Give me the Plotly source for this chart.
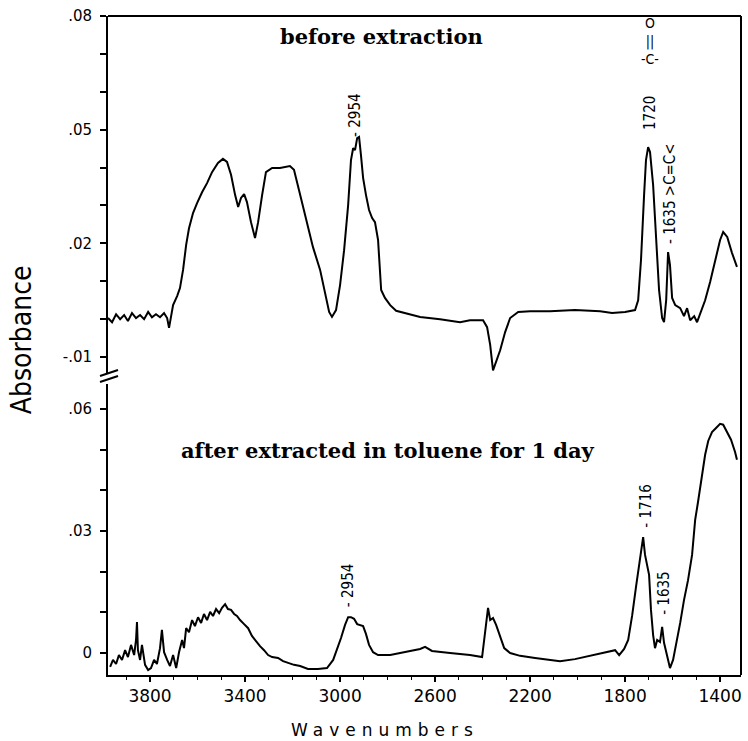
import plotly.graph_objects as go

# ---- data (wavenumber cm-1, absorbance) ----
wn_before = [3977, 3960, 3943, 3926, 3909, 3893, 3876, 3859, 3842, 3825, 3808, 3792, 3775, 3758, 3741, 3728, 3720,
             3703, 3686, 3674, 3661, 3648, 3636, 3619, 3602, 3581, 3560, 3539, 3514, 3493, 3476, 3459, 3442, 3429,
             3417, 3404, 3392, 3375, 3358, 3345, 3328, 3312, 3286, 3253, 3211, 3194, 3173, 3147, 3114, 3084, 3063,
             3046, 3034, 3017, 3000, 2983, 2966, 2954, 2945, 2937, 2928, 2920, 2912, 2903, 2891, 2878, 2865, 2853,
             2840, 2827, 2811, 2789, 2764, 2726, 2663, 2579, 2495, 2453, 2398, 2381, 2368, 2356, 2343, 2326, 2305,
             2284, 2250, 2200, 2116, 2011, 1905, 1855, 1800, 1758, 1745, 1733, 1720, 1712, 1703, 1695, 1682, 1669,
             1657, 1644, 1636, 1627, 1619, 1611, 1602, 1589, 1568, 1552, 1539, 1526, 1509, 1497, 1484, 1463, 1442,
             1421, 1400, 1387, 1370, 1350, 1329]
abs_before = [0.0003, -0.0008, 0.0013, 0.0000, 0.0011, -0.0005, 0.0016, 0.0003, 0.0011, 0.0000, 0.0019, 0.0005,
              0.0013, 0.0005, 0.0016, 0.0003, -0.0023, 0.0037, 0.0061, 0.0082, 0.0130, 0.0196, 0.0240, 0.0280,
              0.0306, 0.0335, 0.0359, 0.0388, 0.0412, 0.0423, 0.0415, 0.0381, 0.0328, 0.0296, 0.0320, 0.0330,
              0.0309, 0.0256, 0.0214, 0.0256, 0.0328, 0.0388, 0.0399, 0.0399, 0.0404, 0.0394, 0.0341, 0.0275,
              0.0190, 0.0130, 0.0064, 0.0019, 0.0006, 0.0024, 0.0090, 0.0182, 0.0301, 0.0420, 0.0451, 0.0446,
              0.0478, 0.0481, 0.0433, 0.0373, 0.0328, 0.0288, 0.0267, 0.0256, 0.0209, 0.0077, 0.0056, 0.0037,
              0.0022, 0.0016, 0.0006, 0.0000, -0.0008, -0.0003, -0.0003, -0.0021, -0.0068, -0.0135, -0.0113,
              -0.0082, -0.0034, 0.0003, 0.0019, 0.0021, 0.0021, 0.0024, 0.0021, 0.0016, 0.0019, 0.0024, 0.0050,
              0.0156, 0.0328, 0.0420, 0.0454, 0.0441, 0.0354, 0.0209, 0.0077, 0.0003, -0.0008, 0.0050, 0.0177,
              0.0143, 0.0056, 0.0037, 0.0029, 0.0008, 0.0029, -0.0003, 0.0008, -0.0008, 0.0016, 0.0050, 0.0098,
              0.0156, 0.0209, 0.0230, 0.0217, 0.0175, 0.0138]

wn_after = [3968, 3956, 3943, 3931, 3918, 3905, 3893, 3880, 3867, 3859, 3855, 3851, 3842, 3834, 3821, 3808, 3796,
            3783, 3771, 3758, 3750, 3741, 3728, 3716, 3703, 3690, 3678, 3665, 3657, 3648, 3636, 3623, 3611, 3598,
            3585, 3573, 3560, 3547, 3535, 3522, 3509, 3497, 3484, 3472, 3459, 3446, 3434, 3421, 3404, 3387, 3371,
            3354, 3337, 3320, 3303, 3286, 3261, 3240, 3219, 3194, 3168, 3135, 3093, 3055, 3029, 3013, 2996, 2979,
            2966, 2954, 2941, 2928, 2916, 2903, 2891, 2878, 2861, 2840, 2789, 2726, 2663, 2642, 2613, 2537, 2453,
            2402, 2390, 2377, 2368, 2356, 2343, 2326, 2309, 2284, 2242, 2179, 2116, 2074, 2011, 1948, 1884, 1842,
            1825, 1804, 1787, 1770, 1753, 1737, 1724, 1716, 1707, 1699, 1691, 1682, 1674, 1665, 1653, 1644, 1636,
            1623, 1611, 1598, 1585, 1568, 1552, 1535, 1518, 1505, 1493, 1476, 1463, 1450, 1434, 1417, 1400, 1387,
            1370, 1354, 1337, 1329]
abs_after = [-0.0034, -0.0017, -0.0027, -0.0005, -0.0017, 0.0007, -0.0010, 0.0020, -0.0005, 0.0032, 0.0076, 0.0007,
             -0.0017, 0.0020, -0.0029, -0.0042, -0.0037, -0.0017, -0.0027, 0.0012, 0.0057, 0.0002, -0.0017, -0.0032,
             -0.0005, -0.0037, 0.0002, 0.0032, 0.0012, 0.0061, 0.0051, 0.0081, 0.0066, 0.0088, 0.0074, 0.0096,
             0.0081, 0.0101, 0.0091, 0.0108, 0.0098, 0.0111, 0.0120, 0.0108, 0.0106, 0.0096, 0.0091, 0.0081, 0.0071,
             0.0061, 0.0042, 0.0029, 0.0017, 0.0007, -0.0005, -0.0010, -0.0012, -0.0020, -0.0025, -0.0029, -0.0032,
             -0.0039, -0.0039, -0.0037, -0.0017, 0.0007, 0.0037, 0.0069, 0.0088, 0.0088, 0.0084, 0.0071, 0.0069,
             0.0066, 0.0047, 0.0020, 0.0002, -0.0005, -0.0005, 0.0002, 0.0010, 0.0015, 0.0005, 0.0000, -0.0005,
             -0.0010, 0.0052, 0.0111, 0.0081, 0.0086, 0.0069, 0.0039, 0.0012, 0.0000, -0.0007, -0.0012, -0.0017,
             -0.0020, -0.0015, -0.0007, 0.0002, 0.0007, -0.0005, 0.0010, 0.0032, 0.0093, 0.0167, 0.0229, 0.0285,
             0.0241, 0.0216, 0.0192, 0.0106, 0.0044, 0.0012, 0.0032, 0.0027, 0.0064, 0.0025, -0.0012, -0.0037,
             -0.0017, 0.0020, 0.0074, 0.0130, 0.0179, 0.0241, 0.0327, 0.0371, 0.0438, 0.0487, 0.0521, 0.0543,
             0.0553, 0.0563, 0.0561, 0.0543, 0.0524, 0.0494, 0.0475]

x_tickvals = [3800, 3400, 3000, 2600, 2200, 1800, 1400]
x_ticktext = ["3800", "3400", "3000", "2600", "2200", "1800", "1400"]
top_tickvals = [0.08, 0.05, 0.02, -0.01]
top_ticktext = [".08", ".05", ".02", "-.01"]
bot_tickvals = [0.06, 0.03, 0.0]
bot_ticktext = [".06", ".03", "0"]

tick_font = dict(family="DejaVu Sans", size=15, color="black")
label_font = dict(family="DejaVu Sans Condensed, Liberation Sans Narrow, sans-serif", size=15, color="black")
serif_font = dict(family="DejaVu Serif", size=21, color="black")

fig = go.Figure()
fig.add_trace(go.Scatter(x=wn_before, y=abs_before, mode="lines", xaxis="x", yaxis="y2",
                         line=dict(color="black", width=2), hoverinfo="skip"))
fig.add_trace(go.Scatter(x=wn_after, y=abs_after, mode="lines", xaxis="x", yaxis="y",
                         line=dict(color="black", width=2), hoverinfo="skip"))

yax_common = dict(showline=True, linewidth=2, linecolor="black", ticks="outside", ticklen=6, tickwidth=1.5,
                  tickcolor="black", showgrid=False, zeroline=False, tickmode="array", tickfont=tick_font,
                  ticklabelstandoff=5,
                  minor=dict(ticks="outside", ticklen=6, tickwidth=1.5, tickcolor="black", dtick=0.01, tick0=0,
                             showgrid=False))

fig.update_layout(
    width=748, height=741,
    margin=dict(l=108, r=7, t=16, b=66),
    paper_bgcolor="white", plot_bgcolor="white",
    showlegend=False,
    xaxis=dict(range=[3977, 1312], anchor="y", showline=True, linewidth=2, linecolor="black",
               ticks="outside", ticklen=5, tickwidth=1.5, tickcolor="black", tickmode="array",
               tickvals=x_tickvals, ticktext=x_ticktext, showgrid=False, zeroline=False,
               tickfont=dict(family="DejaVu Sans", size=17, color="black"),
               minor=dict(ticks="outside", ticklen=3, tickwidth=1, tickcolor="black", dtick=100, tick0=1400,
                          showgrid=False)),
    yaxis=dict(domain=[0, 0.4416], range=[-0.0054, 0.0661], anchor="x",
               tickvals=bot_tickvals, ticktext=bot_ticktext, **yax_common),
    yaxis2=dict(domain=[0.4583, 1], range=[-0.0142, 0.08], anchor="x",
                tickvals=top_tickvals, ticktext=top_ticktext, **yax_common),
)

# frame: top and right borders
fig.add_shape(type="line", xref="paper", yref="paper", x0=0, x1=1, y0=1, y1=1,
              line=dict(color="black", width=2))
fig.add_shape(type="line", xref="paper", yref="paper", x0=1, x1=1, y0=0, y1=1,
              line=dict(color="black", width=2))
# axis break marks
for dy in (0, -6):
    fig.add_shape(type="line", xref="paper", yref="paper", xsizemode="pixel", ysizemode="pixel",
                  xanchor=0, yanchor=0.4522, x0=-8, x1=10, y0=dy + 1, y1=dy + 7,
                  line=dict(color="black", width=2))

ann = dict(showarrow=False, xanchor="center", yanchor="middle")

# panel titles
fig.add_annotation(text="<b>before extraction</b>", x=2827, y=0.0745, xref="x", yref="y2",
                   font=serif_font, **ann)
fig.add_annotation(text="<b>after extracted in toluene for 1 day</b>", x=2798, y=0.0497, xref="x", yref="y",
                   font=serif_font, **ann)

# peak labels (rotated)
fig.add_annotation(text="- 2954", x=2937, y=0.0539, xref="x", yref="y2", textangle=-90, font=label_font, **ann)
fig.add_annotation(text="1720", x=1695, y=0.0544, xref="x", yref="y2", textangle=-90, font=label_font, **ann)
fig.add_annotation(text="O<br>||<br>-C-", x=1695, y=0.0735, xref="x", yref="y2",
                   font=dict(family="DejaVu Sans Condensed, sans-serif", size=14, color="black"), **ann)
fig.add_annotation(text="- 1635 >C=C<", x=1611, y=0.0333, xref="x", yref="y2", textangle=-90,
                   font=label_font, **ann)
fig.add_annotation(text="- 2954", x=2966, y=0.0167, xref="x", yref="y", textangle=-90, font=label_font, **ann)
fig.add_annotation(text="- 1716", x=1712, y=0.0362, xref="x", yref="y", textangle=-90, font=label_font, **ann)
fig.add_annotation(text="- 1635", x=1636, y=0.0148, xref="x", yref="y", textangle=-90, font=label_font, **ann)

# axis titles
fig.add_annotation(text="Absorbance", x=-0.1374, y=0.508, xref="paper", yref="paper", textangle=-90,
                   font=dict(family="Liberation Sans Narrow, DejaVu Sans Condensed, sans-serif", size=28,
                             color="black"), **ann)
fig.add_annotation(text='<span style="letter-spacing:6px">Wavenumbers</span>', x=0.4376, y=-0.0835,
                   xref="paper", yref="paper",
                   font=dict(family="DejaVu Sans", size=17, color="black"), **ann)

fig.write_html("out.html", config={"displayModeBar": False},
               post_script="document.body.style.margin='0';document.body.style.padding='0';")
